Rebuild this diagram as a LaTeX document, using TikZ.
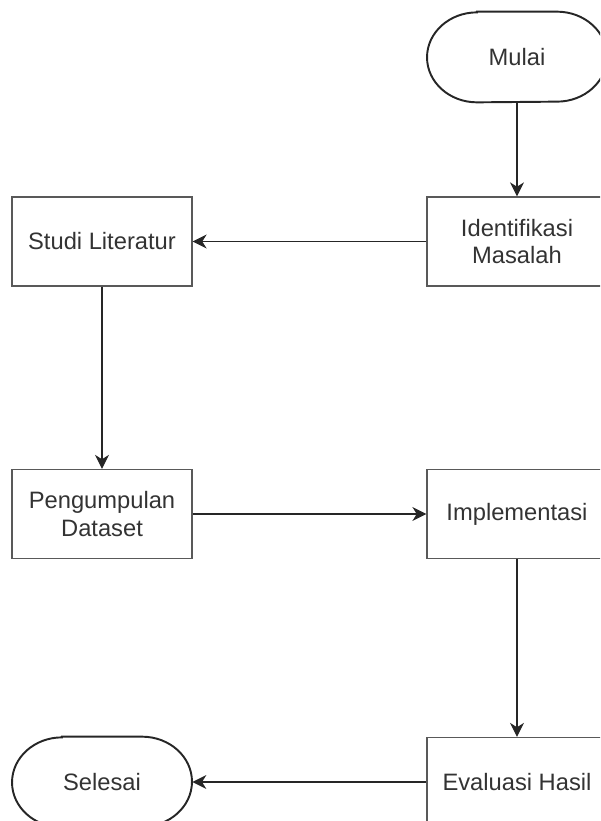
\documentclass[tikz,border=0pt]{standalone}
\usepackage{fontspec}
\setmainfont{Liberation Sans}
\usetikzlibrary{arrows.meta}
\begin{document}
\begin{tikzpicture}[x=0.02cm,y=-0.02cm,
        every node/.style={font=\fontsize{13.5}{15.4}\selectfont,text=black!80,align=center,inner sep=0pt},
        kotak/.style={draw=black!65,line width=0.7pt,minimum width=3.6cm,minimum height=1.78cm},
        ujung/.style={minimum width=3.6cm,minimum height=1.8cm},
        garis/.style={black!85,line width=1.1pt},
        panah/.style={-{Stealth[length=8pt,width=8pt,inset=2.5pt]},black!85,line width=0.65pt}]
        \useasboundingbox (0,0) rectangle (600,821);
        \clip (0,0) rectangle (600,821);

        \node[ujung] (mulai) at (517,57) {Mulai};
        \node[kotak] (ident) at (517,241.5) {Identifikasi\\Masalah};
        \node[kotak] (studi) at (102,241.5) {Studi Literatur};
        \node[kotak] (kumpul) at (102,514) {Pengumpulan\\Dataset};
        \node[kotak] (impl) at (517,514) {Implementasi};
        \node[kotak] (eval) at (517,782) {Evaluasi Hasil};
        \node[ujung] (selesai) at (102,782) {Selesai};

        % terminator outlines
        \foreach \n in {mulai,selesai}
            \draw[garis] ([xshift=-0.8cm]\n.north) -- ([xshift=0.8cm]\n.north)
                arc[start angle=90,end angle=-90,x radius=1cm,y radius=0.9cm]
                -- ([xshift=-0.8cm]\n.south)
                arc[start angle=270,end angle=90,x radius=1cm,y radius=0.9cm] -- cycle;

        \draw[panah] (mulai) -- (ident);
        \draw[panah] (ident) -- (studi);
        \draw[panah] (studi) -- (kumpul);
        \draw[panah] (kumpul) -- (impl);
        \draw[panah] (impl) -- (eval);
        \draw[panah] (eval) -- (selesai);
    \end{tikzpicture}
\end{document}
